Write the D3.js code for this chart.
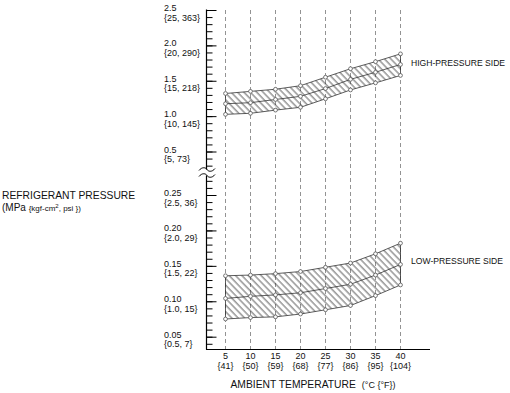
<!DOCTYPE html>
<html>
<head>
<meta charset="utf-8">
<script src="https://cdn.jsdelivr.net/npm/d3@7"></script>
<style>
    body { margin: 0; background: #fff; }
    text { font-family: "Liberation Sans", Arial, sans-serif; fill: #111; }
</style>
</head>
<body>
<svg id="chart" width="510" height="393"></svg>
<script>
////////////
// DATA
////////////

let temps = [5, 10, 15, 20, 25, 30, 35, 40];
let tempsF = [41, 50, 59, 68, 77, 86, 95, 104];

// high-pressure side (MPa)
let highUpper = [1.32, 1.35, 1.38, 1.43, 1.55, 1.67, 1.77, 1.88];
let highMid = [1.175, 1.19, 1.235, 1.28, 1.39, 1.52, 1.62, 1.73];
let highLower = [1.025, 1.04, 1.085, 1.125, 1.245, 1.37, 1.47, 1.575];

// low-pressure side (MPa)
let lowUpper = [0.136, 0.137, 0.139, 0.142, 0.148, 0.154, 0.167, 0.182];
let lowMid = [0.104, 0.107, 0.109, 0.112, 0.118, 0.124, 0.137, 0.152];
let lowLower = [0.075, 0.077, 0.078, 0.082, 0.088, 0.094, 0.108, 0.123];

let highTicks = [0.5, 1.0, 1.5, 2.0, 2.5];
let highTickLabels = ["{5, 73}", "{10, 145}", "{15, 218}", "{20, 290}", "{25, 363}"];
let lowTicks = [0.05, 0.10, 0.15, 0.20, 0.25];
let lowTickLabels = ["{0.5, 7}", "{1.0, 15}", "{1.5, 22}", "{2.0, 29}", "{2.5, 36}"];

////////////
// SCALES
////////////

const svg = d3.select("#chart");

let x = d3.scaleLinear().domain([5, 40]).range([225.5, 400.5]);
let yHigh = d3.scaleLinear().domain([0.5, 2.5]).range([151.5, 10]);
let yLow = d3.scaleLinear().domain([0.05, 0.25]).range([336.7, 195]);

const axisX = 206.5;
const axisBottom = 349.5;

// hatch pattern for the bands
const defs = svg.append("defs");
const hatch = defs.append("pattern")
    .attr("id", "hatch")
    .attr("patternUnits", "userSpaceOnUse")
    .attr("width", 4.6)
    .attr("height", 10)
    .attr("patternTransform", "rotate(-44)");
hatch.append("line")
    .attr("x1", 1).attr("y1", 0)
    .attr("x2", 1).attr("y2", 10)
    .style("stroke", "#222")
    .style("stroke-width", 0.75);

////////////
// GRID
////////////

svg.append("g")
    .selectAll("line")
    .data(temps)
    .join("line")
    .attr("x1", d => x(d)).attr("x2", d => x(d))
    .attr("y1", 10).attr("y2", axisBottom)
    .style("stroke", "#777")
    .style("stroke-width", 0.8)
    .style("stroke-dasharray", "4,3");

////////////
// BANDS
////////////

function drawBand(upper, mid, lower, y) {
    let pts = temps.map((t, i) => [x(t), y(upper[i])])
        .concat(temps.map((t, i) => [x(t), y(lower[i])]).reverse());

    svg.append("path")
        .attr("d", "M" + pts.join("L") + "Z")
        .style("fill", "url(#hatch)")
        .style("stroke", "#333")
        .style("stroke-width", 0.8);

    let line = d3.line().x((d, i) => x(temps[i])).y(d => y(d));
    svg.append("path")
        .attr("d", line(mid))
        .style("fill", "none")
        .style("stroke", "#333")
        .style("stroke-width", 0.8);

    [upper, mid, lower].forEach(series => {
        svg.append("g")
            .selectAll("circle")
            .data(series)
            .join("circle")
            .attr("cx", (d, i) => x(temps[i]))
            .attr("cy", d => y(d))
            .attr("r", 1.9)
            .style("fill", "#fff")
            .style("stroke", "#555")
            .style("stroke-width", 0.8);
    });
}

drawBand(highUpper, highMid, highLower, yHigh);
drawBand(lowUpper, lowMid, lowLower, yLow);

////////////
// AXES
////////////

function drawTicks(y, minor, major) {
    svg.append("g")
        .attr("transform", `translate(${axisX},0)`)
        .call(d3.axisLeft(y).tickValues(minor).tickSize(-6).tickFormat(""))
        .call(g => g.select(".domain").remove())
        .call(g => g.selectAll("line").style("stroke", "#000"));
    svg.append("g")
        .attr("transform", `translate(${axisX},0)`)
        .call(d3.axisLeft(y).tickValues(major).tickSize(-10).tickFormat(""))
        .call(g => g.select(".domain").remove())
        .call(g => g.selectAll("line").style("stroke", "#000"));
}

let highMinor = d3.range(3, 26).map(d => d / 10);
let lowMinor = d3.range(4, 28).map(d => d / 100);
drawTicks(yHigh, highMinor, highTicks);
drawTicks(yLow, lowMinor, lowTicks);

function drawTickLabels(y, ticks, labels, fmt) {
    let g = svg.append("g").selectAll("text")
        .data(ticks)
        .join("text")
        .attr("x", 164)
        .attr("y", d => y(d) + 1)
        .style("font-size", "9px");
    g.append("tspan").text(d => fmt(d));
    g.append("tspan")
        .attr("x", 164)
        .attr("dy", 9.5)
        .text((d, i) => labels[i]);
}

drawTickLabels(yHigh, highTicks, highTickLabels, d => d.toFixed(1));
drawTickLabels(yLow, lowTicks, lowTickLabels, d => d.toFixed(2));

// axis lines
svg.append("line")
    .attr("x1", axisX).attr("x2", axisX)
    .attr("y1", 9.5).attr("y2", axisBottom)
    .style("stroke", "#000").style("stroke-width", 1.2);
svg.append("line")
    .attr("x1", axisX - 0.5).attr("x2", 430)
    .attr("y1", axisBottom).attr("y2", axisBottom)
    .style("stroke", "#000").style("stroke-width", 1.2);

// axis break
svg.append("rect")
    .attr("x", 199).attr("y", 169.5)
    .attr("width", 16).attr("height", 6)
    .style("fill", "#fff");
[169.5, 175.5].forEach(yy => {
    svg.append("path")
        .attr("d", `M199,${yy + 1} C202,${yy - 3} 206,${yy - 2} 207,${yy} S212,${yy + 3} 215,${yy - 1}`)
        .style("fill", "none")
        .style("stroke", "#000")
        .style("stroke-width", 1);
});

// x tick labels
let xl = svg.append("g").selectAll("text")
    .data(temps)
    .join("text")
    .attr("text-anchor", "middle")
    .attr("x", d => x(d))
    .attr("y", 359)
    .style("font-size", "9px");
xl.append("tspan").text(d => d);
xl.append("tspan")
    .attr("x", d => x(d))
    .attr("dy", 10)
    .text((d, i) => "{" + tempsF[i] + "}");

////////////
// TITLES
////////////

let xTitle = svg.append("text")
    .attr("x", 313)
    .attr("y", 388)
    .attr("text-anchor", "middle")
    .style("font-size", "10.3px");
xTitle.append("tspan").text("AMBIENT TEMPERATURE");
xTitle.append("tspan").attr("dx", 6).style("font-size", "9px").text("(°C {°F})");

svg.append("text")
    .attr("x", 2).attr("y", 199)
    .style("font-size", "10.3px")
    .text("REFRIGERANT PRESSURE");
let yUnit = svg.append("text")
    .attr("x", 2).attr("y", 211)
    .style("font-size", "10px");
yUnit.append("tspan").text("(MPa ");
yUnit.append("tspan").style("font-size", "8px").text("{kgf-cm");
yUnit.append("tspan").style("font-size", "6px").attr("dy", -3).text("2");
yUnit.append("tspan").style("font-size", "8px").attr("dy", 3).text(", psi })");

svg.append("text")
    .attr("x", 411).attr("y", 66)
    .style("font-size", "8.6px")
    .text("HIGH-PRESSURE SIDE");
svg.append("text")
    .attr("x", 411).attr("y", 264)
    .style("font-size", "8.6px")
    .text("LOW-PRESSURE SIDE");
</script>
</body>
</html>
